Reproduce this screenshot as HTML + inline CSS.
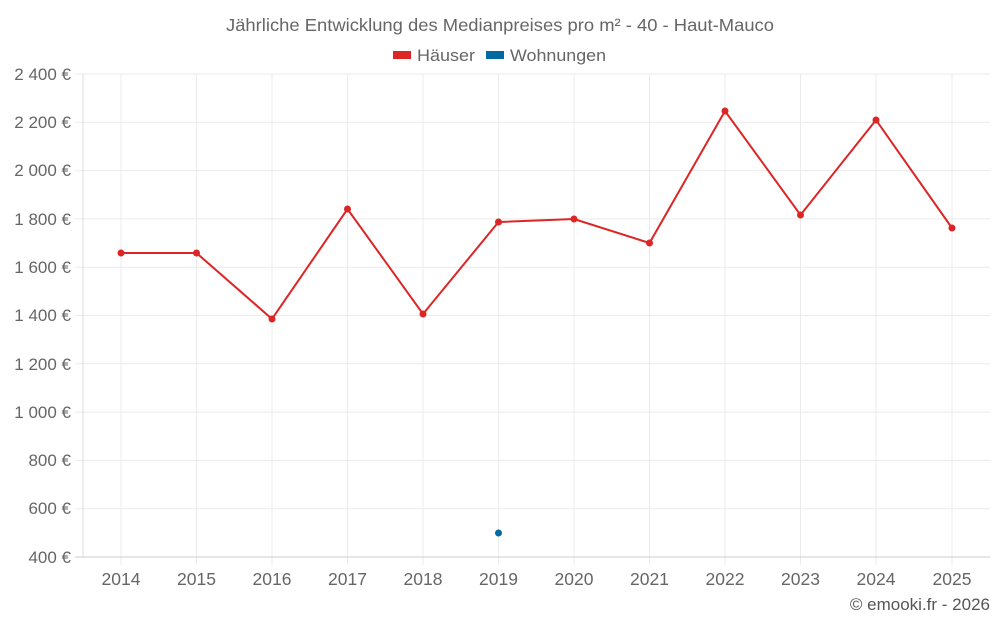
<!DOCTYPE html>
<html><head><meta charset="utf-8"><style>
body{margin:0;background:#fff;}
svg{display:block;font-family:"Liberation Sans",sans-serif;}
</style></head><body>
<svg width="1000" height="625" viewBox="0 0 1000 625">
<text x="500" y="31" text-anchor="middle" font-size="17.5" fill="#666" textLength="548" lengthAdjust="spacingAndGlyphs">Jährliche Entwicklung des Medianpreises pro m² - 40 - Haut-Mauco</text>
<rect x="393" y="51" width="18" height="8" fill="#dc2626"/>
<text x="417" y="61" font-size="17" fill="#666" textLength="58" lengthAdjust="spacingAndGlyphs">Häuser</text>
<rect x="486" y="51" width="18" height="8" fill="#0369a1"/>
<text x="510" y="61" font-size="17" fill="#666" textLength="96" lengthAdjust="spacingAndGlyphs">Wohnungen</text>
<g stroke="#ebebeb" stroke-width="1">
<line x1="75" y1="74" x2="990" y2="74"/><line x1="75" y1="122.3" x2="990" y2="122.3"/><line x1="75" y1="170.6" x2="990" y2="170.6"/><line x1="75" y1="218.9" x2="990" y2="218.9"/><line x1="75" y1="267.2" x2="990" y2="267.2"/><line x1="75" y1="315.5" x2="990" y2="315.5"/><line x1="75" y1="363.8" x2="990" y2="363.8"/><line x1="75" y1="412.1" x2="990" y2="412.1"/><line x1="75" y1="460.4" x2="990" y2="460.4"/><line x1="75" y1="508.7" x2="990" y2="508.7"/>
<line x1="121" y1="74" x2="121" y2="565"/><line x1="196.5" y1="74" x2="196.5" y2="565"/><line x1="272" y1="74" x2="272" y2="565"/><line x1="347.5" y1="74" x2="347.5" y2="565"/><line x1="423" y1="74" x2="423" y2="565"/><line x1="498.5" y1="74" x2="498.5" y2="565"/><line x1="574" y1="74" x2="574" y2="565"/><line x1="649.5" y1="74" x2="649.5" y2="565"/><line x1="725" y1="74" x2="725" y2="565"/><line x1="800.5" y1="74" x2="800.5" y2="565"/><line x1="876" y1="74" x2="876" y2="565"/><line x1="952" y1="74" x2="952" y2="565"/>
</g>
<line x1="83" y1="74" x2="83" y2="557" stroke="#ddd"/>
<line x1="75" y1="557" x2="990" y2="557" stroke="#ccc"/>
<g font-size="17" fill="#666" text-anchor="end">
<text x="71" y="80">2 400 €</text><text x="71" y="128">2 200 €</text><text x="71" y="176">2 000 €</text><text x="71" y="225">1 800 €</text><text x="71" y="273">1 600 €</text><text x="71" y="321">1 400 €</text><text x="71" y="370">1 200 €</text><text x="71" y="418">1 000 €</text><text x="71" y="466">800 €</text><text x="71" y="514">600 €</text><text x="71" y="563">400 €</text>
</g>
<g font-size="17.5" fill="#666" text-anchor="middle">
<text x="121" y="585">2014</text><text x="196.5" y="585">2015</text><text x="272" y="585">2016</text><text x="347.5" y="585">2017</text><text x="423" y="585">2018</text><text x="498.5" y="585">2019</text><text x="574" y="585">2020</text><text x="649.5" y="585">2021</text><text x="725" y="585">2022</text><text x="800.5" y="585">2023</text><text x="876" y="585">2024</text><text x="952" y="585">2025</text>
</g>
<polyline fill="none" stroke="#dc2626" stroke-width="2" points="121,253 196.5,253 272,319 347.5,209 423,314 498.5,222 574,219 649.5,243 725,111 800.5,215 876,120 952,228"/>
<g fill="#dc2626">
<circle cx="121" cy="253" r="3.5"/><circle cx="196.5" cy="253" r="3.5"/><circle cx="272" cy="319" r="3.5"/><circle cx="347.5" cy="209" r="3.5"/><circle cx="423" cy="314" r="3.5"/><circle cx="498.5" cy="222" r="3.5"/><circle cx="574" cy="219" r="3.5"/><circle cx="649.5" cy="243" r="3.5"/><circle cx="725" cy="111" r="3.5"/><circle cx="800.5" cy="215" r="3.5"/><circle cx="876" cy="120" r="3.5"/><circle cx="952" cy="228" r="3.5"/>
</g>
<circle cx="498.5" cy="533" r="3.5" fill="#0369a1"/>
<text x="990" y="610" text-anchor="end" font-size="17" fill="#555">© emooki.fr - 2026</text>
</svg>
</body></html>
